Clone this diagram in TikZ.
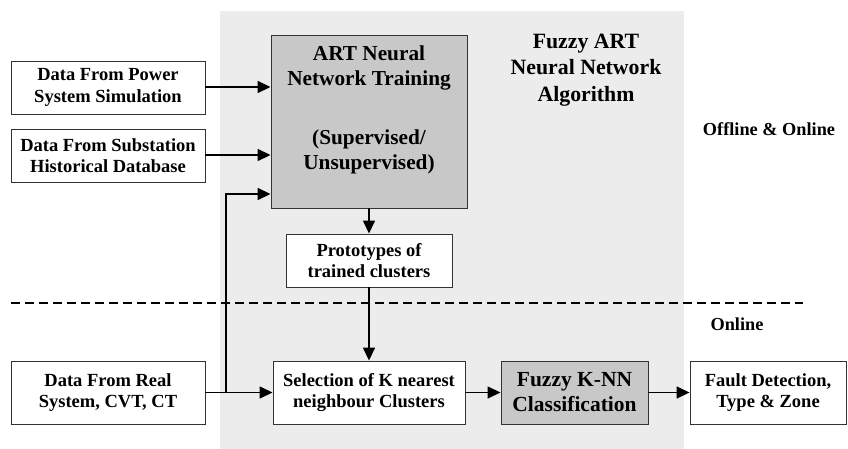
\documentclass[tikz,border=0pt]{standalone}
\usepackage{fontspec}
\setmainfont{Liberation Serif}
\usetikzlibrary{arrows.meta}
\definecolor{bggray}{HTML}{ECECEC}
\definecolor{boxgray}{HTML}{C8C8C8}
\begin{document}
\begin{tikzpicture}[x=1pt,y=-1pt,
  box/.style={draw=black!80,line width=0.9pt,fill=white,inner sep=0pt,align=center,font=\fontsize{18.5}{21.5}\selectfont\bfseries},
  gbox/.style={box,fill=boxgray},
  conn/.style={line width=1.5pt,-{Triangle[length=13pt,width=12pt]}},
  lbl/.style={align=center,inner sep=0pt}]
\useasboundingbox (0,0) rectangle (848,449);
\fill[bggray] (220,11) rectangle (684,449);
\node[box,minimum width=194pt,minimum height=53pt] (b1) at (108,87.5) {Data From Power\\System Simulation};
\node[box,minimum width=194pt,minimum height=53pt] (b2) at (108,155.5) {Data From Substation\\Historical Database};
\node[gbox,minimum width=196pt,minimum height=173pt] (art) at (369,121.5) {};
\node[lbl,font=\fontsize{21.3}{25}\selectfont\bfseries] (arttext) at (369,109.5) {ART Neural\\Network Training\\[34pt](Supervised/\\Unsupervised)};
\node[box,minimum width=166pt,minimum height=53pt] (proto) at (369,260.5) {Prototypes of\\trained clusters};
\node[box,minimum width=194pt,minimum height=63pt] (real) at (108,392.5) {Data From Real\\System, CVT, CT};
\node[box,minimum width=192pt,minimum height=63pt] (sel) at (369,392.5) {Selection of K nearest\\neighbour Clusters};
\node[gbox,minimum width=147pt,minimum height=63pt,font=\fontsize{21.5}{25}\selectfont\bfseries] (knn) at (574.5,392.5) {Fuzzy K-NN\\Classification};
\node[box,minimum width=156pt,minimum height=63pt] (fault) at (768,392.5) {Fault Detection,\\Type \& Zone};
\node[lbl,font=\fontsize{21.8}{26.5}\selectfont\bfseries] (fuzzyart) at (586,70) {Fuzzy ART\\Neural Network\\Algorithm};
\node[lbl,font=\fontsize{18.3}{21}\selectfont\bfseries] (offon) at (769,129) {Offline \& Online};
\node[lbl,font=\fontsize{18.3}{21}\selectfont\bfseries] (online) at (737,324) {Online};
\draw[dashed,line width=1.2pt,dash pattern=on 9pt off 5pt] (11,303) coordinate (dl) -- (803,303) coordinate (dr);
\draw[conn] (b1.east |- 0,87) -- (art.west |- 0,87);
\draw[conn] (b2.east |- 0,155) -- (art.west |- 0,155);
\draw[conn] (art.south) -- (proto.north);
\draw[conn] (proto.south) -- (sel.north);
\draw[conn] (real.east) -- (sel.west);
\coordinate (junc) at (226,392.5);
\draw[conn] (junc) |- (art.west |- 0,194);
\draw[conn] (sel.east) -- (knn.west);
\draw[conn] (knn.east) -- (fault.west);
\end{tikzpicture}
\end{document}
